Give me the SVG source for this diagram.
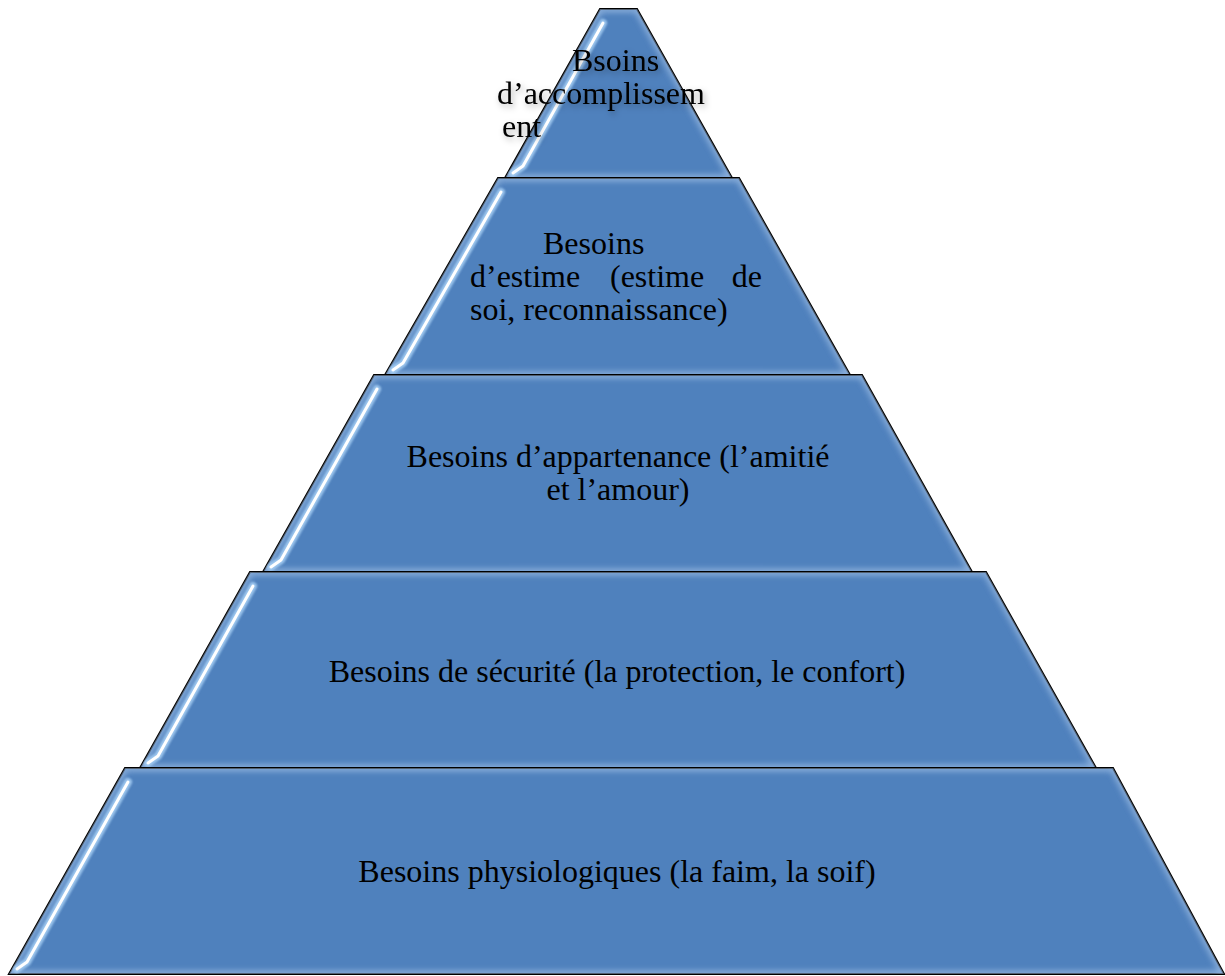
<svg xmlns="http://www.w3.org/2000/svg" width="1225" height="976" viewBox="0 0 1225 976">
  <style>
    .tier { fill: #4f81bd; stroke: #000; stroke-width: 2; stroke-linejoin: miter; }
    .rim { fill: none; stroke: #a9c6ea; stroke-width: 6; filter: url(#soft); opacity: 0.75; }
    .glint-wide { fill: none; stroke: #a8d0f5; stroke-width: 8; stroke-linecap: round; stroke-linejoin: round; opacity: 0.85; filter: url(#soft1); }
    .glint { fill: none; stroke: #ffffff; stroke-width: 3; stroke-linecap: round; stroke-linejoin: round; filter: url(#soft05); }
    text { font-family: 'Liberation Serif', 'Times New Roman', Times, serif; font-size: 32px; fill: #000; }
    .mid { text-anchor: middle; }
    .end { text-anchor: end; }
  </style>
  <defs>
    <filter id="soft" x="-10%" y="-10%" width="120%" height="120%">
      <feGaussianBlur stdDeviation="3"/>
    </filter>
    <filter id="soft1" x="-20%" y="-10%" width="140%" height="120%">
      <feGaussianBlur stdDeviation="1.3"/>
    </filter>
    <filter id="soft05" x="-20%" y="-10%" width="140%" height="120%">
      <feGaussianBlur stdDeviation="0.5"/>
    </filter>
    <filter id="textShadow" x="-20%" y="-30%" width="140%" height="160%">
      <feGaussianBlur in="SourceAlpha" stdDeviation="3"/>
      <feOffset dx="2" dy="3" result="b"/>
      <feFlood flood-color="#000" flood-opacity="0.3"/>
      <feComposite in2="b" operator="in" result="s"/>
      <feMerge>
        <feMergeNode in="s"/>
        <feMergeNode in="SourceGraphic"/>
      </feMerge>
    </filter>
    <clipPath id="c1"><polygon points="600,9 637,9 732,178 505,178"/></clipPath>
    <clipPath id="c2"><polygon points="498,178 739,178 850,375 385,375"/></clipPath>
    <clipPath id="c3"><polygon points="374,375 862,375 972,572 263,572"/></clipPath>
    <clipPath id="c4"><polygon points="250,572 986,572 1096,768 140,768"/></clipPath>
    <clipPath id="c5"><polygon points="125,768 1113,768 1224,974 9,974"/></clipPath>
  </defs>

  <!-- apex tier: self-actualisation -->
  <g id="tier-accomplissement">
    <polygon class="tier" points="600,9 637,9 732,178 505,178"/>
    <g clip-path="url(#c1)">
      <polygon class="rim" points="600,9 637,9 732,178 505,178"/>
      <path class="glint-wide" d="M603,23 L523,166 L513,173"/>
      <path class="glint" d="M603,23 L523,166 L513,173"/>
    </g>
    <g filter="url(#textShadow)">
      <text x="572" y="71" font-family="Liberation Serif">Bsoins</text>
      <text x="497" y="104" font-family="Liberation Serif">d’accomplissem</text>
      <text x="502" y="137" font-family="Liberation Serif">ent</text>
    </g>
  </g>

  <!-- esteem tier -->
  <g id="tier-estime">
    <polygon class="tier" points="498,178 739,178 850,375 385,375"/>
    <g clip-path="url(#c2)">
      <polygon class="rim" points="498,178 739,178 850,375 385,375"/>
      <path class="glint-wide" d="M501,192 L403,363 L393,370"/>
      <path class="glint" d="M501,192 L403,363 L393,370"/>
    </g>
    <g>
      <text x="543" y="254" font-family="Liberation Serif">Besoins</text>
      <text x="470" y="287" font-family="Liberation Serif">d’estime</text>
      <text x="610" y="287" font-family="Liberation Serif">(estime</text>
      <text x="762" y="287" class="end" font-family="Liberation Serif">de</text>
      <text x="470" y="320" font-family="Liberation Serif">soi, reconnaissance)</text>
    </g>
  </g>

  <!-- belonging tier -->
  <g id="tier-appartenance">
    <polygon class="tier" points="374,375 862,375 972,572 263,572"/>
    <g clip-path="url(#c3)">
      <polygon class="rim" points="374,375 862,375 972,572 263,572"/>
      <path class="glint-wide" d="M377,389 L281,560 L271,567"/>
      <path class="glint" d="M377,389 L281,560 L271,567"/>
    </g>
    <g class="mid">
      <text x="618" y="467" font-family="Liberation Serif">Besoins d’appartenance (l’amitié</text>
      <text x="618" y="500" font-family="Liberation Serif">et l’amour)</text>
    </g>
  </g>

  <!-- safety tier -->
  <g id="tier-securite">
    <polygon class="tier" points="250,572 986,572 1096,768 140,768"/>
    <g clip-path="url(#c4)">
      <polygon class="rim" points="250,572 986,572 1096,768 140,768"/>
      <path class="glint-wide" d="M253,586 L158,756 L148,763"/>
      <path class="glint" d="M253,586 L158,756 L148,763"/>
    </g>
    <text class="mid" x="617" y="682" font-family="Liberation Serif">Besoins de sécurité (la protection, le confort)</text>
  </g>

  <!-- physiological base tier -->
  <g id="tier-physiologiques">
    <polygon class="tier" points="125,768 1113,768 1224,974 9,974"/>
    <g clip-path="url(#c5)">
      <polygon class="rim" points="125,768 1113,768 1224,974 9,974"/>
      <path class="glint-wide" d="M128,782 L27,962 L17,969"/>
      <path class="glint" d="M128,782 L27,962 L17,969"/>
    </g>
    <text class="mid" x="617" y="882" font-family="Liberation Serif">Besoins physiologiques (la faim, la soif)</text>
  </g>

  <!-- no connectors: tiers are stacked -->
  <g id="connectors"/>
</svg>
